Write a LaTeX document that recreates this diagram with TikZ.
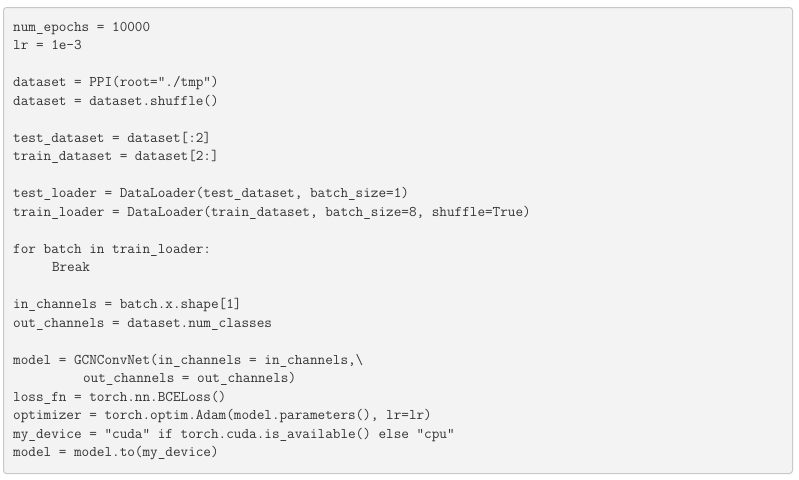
\documentclass[tikz,border=0pt]{standalone}
\usepackage{fontspec}
\definecolor{codebg}{HTML}{F3F3F3}
\definecolor{codeborder}{HTML}{C8C8C8}
\definecolor{codetext}{HTML}{333333}
\begin{document}
\begin{tikzpicture}[x=1pt,y=-1pt,
  codeline/.style={anchor=base west, inner sep=0pt, font=\ttfamily\fontsize{14.78}{16}\selectfont, text=codetext}]
\useasboundingbox (0,0) rectangle (799,479);
\fill[white] (0,0) rectangle (799,479);
\node[draw=codeborder, fill=codebg, line width=1pt, rounded corners=3pt, minimum width=789pt, minimum height=466pt, anchor=north west, inner sep=0pt] (box) at (3,7) {};
\def\dy{18.52}
\node[codeline] (l1) at (13,31) {num\_epochs = 10000};
\node[codeline] (l2) at (13,31+1*\dy) {lr = 1e-3};
\node[codeline] (l4) at (13,31+3*\dy) {dataset = PPI(root="./tmp")};
\node[codeline] (l5) at (13,31+4*\dy) {dataset = dataset.shuffle()};
\node[codeline] (l7) at (13,31+6*\dy) {test\_dataset = dataset[:2]};
\node[codeline] (l8) at (13,31+7*\dy) {train\_dataset = dataset[2:]};
\node[codeline] (l10) at (13,31+9*\dy) {test\_loader = DataLoader(test\_dataset, batch\_size=1)};
\node[codeline] (l11) at (13,31+10*\dy) {train\_loader = DataLoader(train\_dataset, batch\_size=8, shuffle=True)};
\node[codeline] (l13) at (13,31+12*\dy) {for batch in train\_loader:};
\node[codeline] (l14) at (13+5*7.76,31+13*\dy) {Break};
\node[codeline] (l16) at (13,31+15*\dy) {in\_channels = batch.x.shape[1]};
\node[codeline] (l17) at (13,31+16*\dy) {out\_channels = dataset.num\_classes};
\node[codeline] (l19) at (13,31+18*\dy) {model = GCNConvNet(in\_channels = in\_channels,\textbackslash};
\node[codeline] (l20) at (13+9*7.76,31+19*\dy) {out\_channels = out\_channels)};
\node[codeline] (l21) at (13,31+20*\dy) {loss\_fn = torch.nn.BCELoss()};
\node[codeline] (l22) at (13,31+21*\dy) {optimizer = torch.optim.Adam(model.parameters(), lr=lr)};
\node[codeline] (l23) at (13,31+22*\dy) {my\_device = "cuda" if torch.cuda.is\_available() else "cpu"};
\node[codeline] (l24) at (13,31+23*\dy) {model = model.to(my\_device)};
\end{tikzpicture}
\end{document}
